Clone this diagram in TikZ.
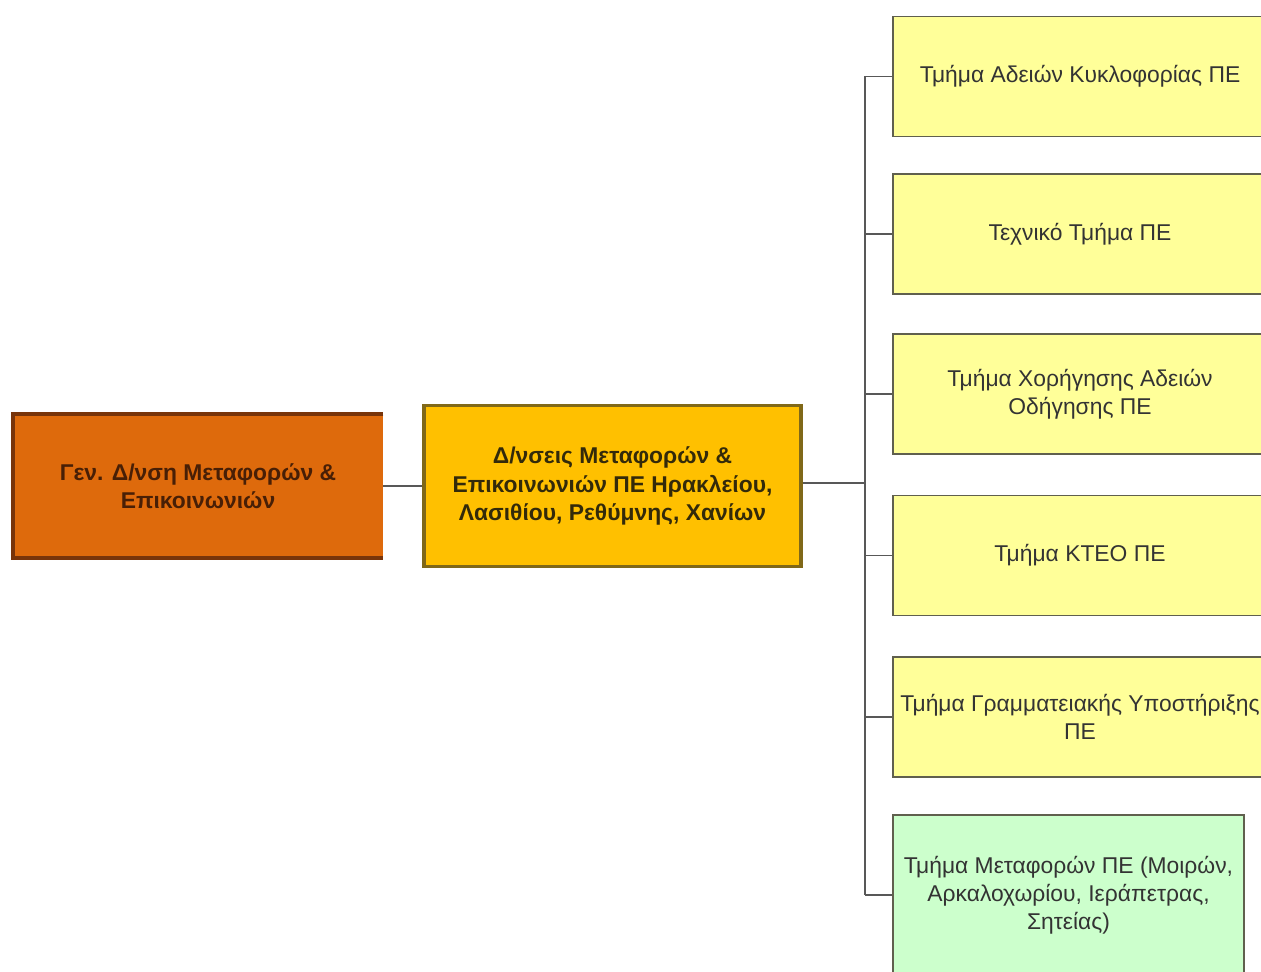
\documentclass[tikz,border=0pt]{standalone}
\usepackage{fontspec}
\setmainfont{Liberation Sans}
\definecolor{genorange}{RGB}{222, 106, 12}
\definecolor{genedge}{RGB}{120, 52, 10}
\definecolor{dirgold}{RGB}{255, 192, 0}
\definecolor{diredge}{RGB}{128, 104, 24}
\definecolor{unityellow}{RGB}{255, 255, 153}
\definecolor{unitgreen}{RGB}{204, 255, 204}
\definecolor{unitedge}{RGB}{96, 96, 78}
\definecolor{linkgrey}{RGB}{88, 88, 88}
\usepackage{tikz}
\usetikzlibrary{positioning, calc}

\begin{document}
\begin{tikzpicture}[
    font=\fontsize{13}{16}\selectfont,
    genbox/.style={fill=genorange, text=genedge!60!black, font=\fontsize{13}{16}\selectfont\bfseries, align=center, minimum width=7.4cm, minimum height=2.86cm, inner sep=2pt},
    dirbox/.style={draw=diredge, line width=2.2pt, fill=dirgold, text=diredge!40!black, font=\fontsize{13}{16}\selectfont\bfseries, align=center, minimum width=7.54cm, minimum height=3.22cm, inner sep=2pt},
    unitbox/.style={draw=unitedge, line width=1.1pt, fill=unityellow, text=black!80, align=center, minimum width=7.48cm, minimum height=2.4cm, inner sep=1pt},
    greenbox/.style={unitbox, fill=unitgreen, minimum width=7.02cm, minimum height=3.2cm},
    link/.style={draw=linkgrey, line width=1pt}
]
\useasboundingbox (0, 0) rectangle (25.22, -19.44);
\clip (0, 0) rectangle (25.22, -19.44);

% top levels
\node[genbox] (gen) at (3.96, -9.72) {Γεν. Δ/νση Μεταφορών \&\\Επικοινωνιών};
\draw[genedge, line width=2.2pt] (gen.north east) -- (gen.north west) -- (gen.south west) -- (gen.south east);
\node[dirbox] (dir) at (12.25, -9.72) {Δ/νσεις Μεταφορών \&\\Επικοινωνιών ΠΕ Ηρακλείου,\\Λασιθίου, Ρεθύμνης, Χανίων};

% departments
\node[unitbox] (adeies) at (21.6, -1.53) {Τμήμα Αδειών Κυκλοφορίας ΠΕ};
\node[unitbox] (texniko) at (21.6, -4.68) {Τεχνικό Τμήμα ΠΕ};
\node[unitbox] (odigisi) at (21.6, -7.88) {Τμήμα Χορήγησης Αδειών\\Οδήγησης ΠΕ};
\node[unitbox] (kteo) at (21.6, -11.11) {Τμήμα ΚΤΕΟ ΠΕ};
\node[unitbox] (grammateia) at (21.6, -14.34) {Τμήμα Γραμματειακής Υποστήριξης\\ΠΕ};
\node[greenbox] (metafores) at (21.37, -17.9) {Τμήμα Μεταφορών ΠΕ (Μοιρών,\\Αρκαλοχωρίου, Ιεράπετρας,\\Σητείας)};

% connectors
\coordinate (bus) at (17.3, -9.66);
\draw[link] (gen.east) -- (dir.west);
\draw[link] (dir.east |- bus) -- (bus);
\draw[link] (bus |- adeies.west) -- (bus |- metafores.west);
\draw[link] (bus |- adeies.west) -- (adeies.west);
\draw[link] (bus |- texniko.west) -- (texniko.west);
\draw[link] (bus |- odigisi.west) -- (odigisi.west);
\draw[link] (bus |- kteo.west) -- (kteo.west);
\draw[link] (bus |- grammateia.west) -- (grammateia.west);
\draw[link] (bus |- metafores.west) -- (metafores.west);
\end{tikzpicture}
\end{document}
